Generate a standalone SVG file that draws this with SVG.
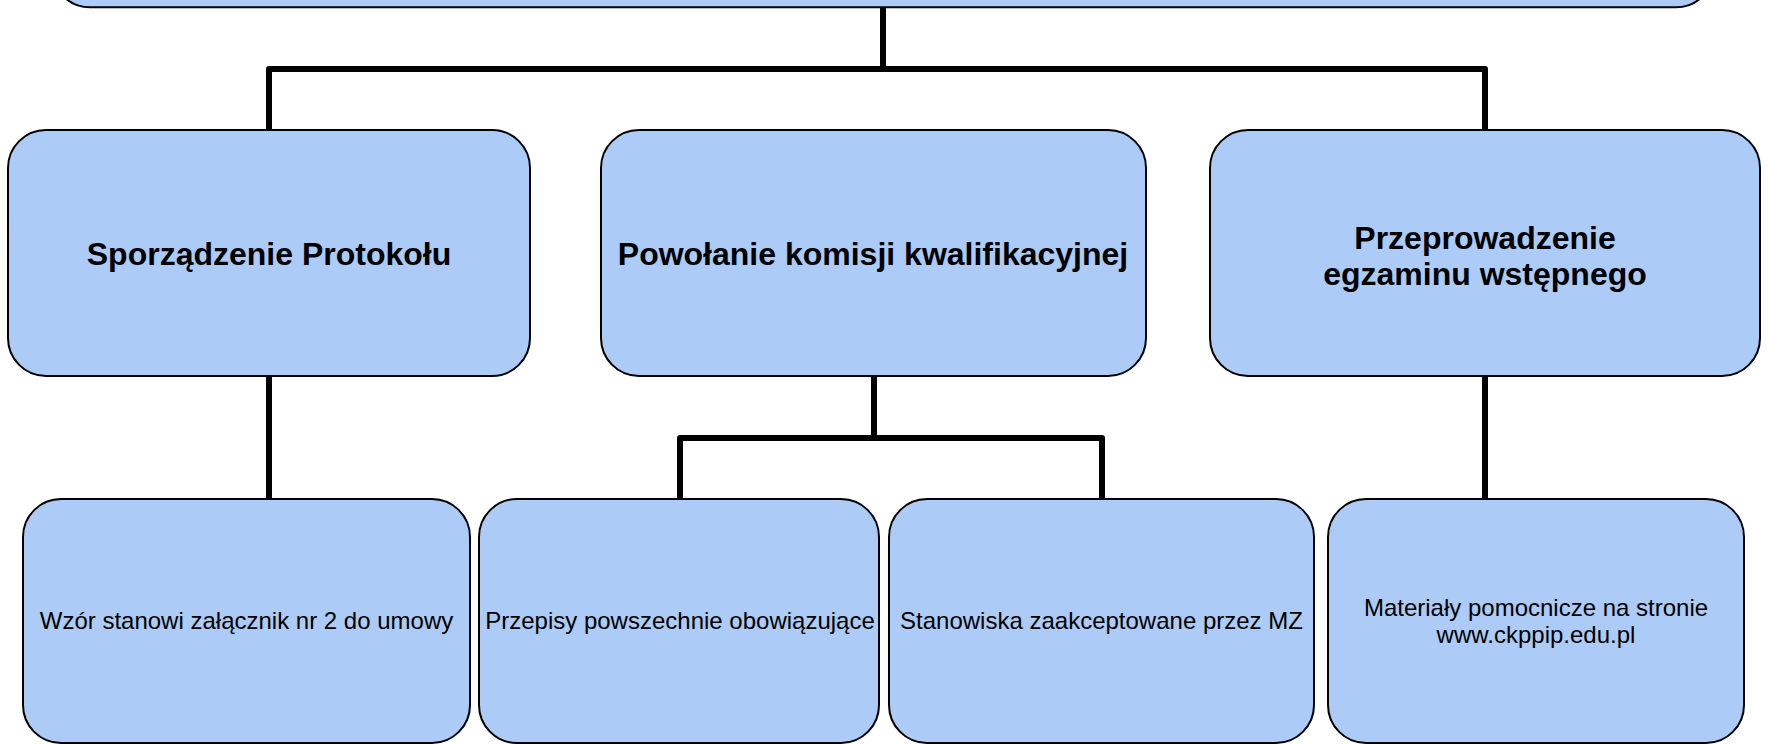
<svg xmlns="http://www.w3.org/2000/svg" width="1767" height="744" viewBox="0 0 1767 744">
  <style>
    .box { fill: #adcbf7; stroke: #000000; stroke-width: 2; }
    .conn { fill: none; stroke: #000000; stroke-width: 6; stroke-linejoin: round; stroke-linecap: butt; }
    .t1 { font-family: "Liberation Sans", Arial, sans-serif; font-weight: bold; font-size: 32px; fill: #000000; text-anchor: middle; }
    .t2 { font-family: "Liberation Sans", Arial, sans-serif; font-size: 24px; fill: #000000; text-anchor: middle; }
  </style>
  <rect width="1767" height="744" fill="#ffffff"/>
  <g id="connectors">
    <path class="conn" d="M883,7 V69"/>
    <path class="conn" d="M269,130 V69 H1485 V130"/>
    <path class="conn" d="M269,376 V499"/>
    <path class="conn" d="M874,376 V438"/>
    <path class="conn" d="M680,499 V438 H1102 V499"/>
    <path class="conn" d="M1485,376 V499"/>
  </g>
  <g id="node-top">
    <rect class="box" x="52" y="-80" width="1662" height="87.3" rx="38" ry="38"/>
  </g>
  <g id="node-protokol">
    <rect class="box" x="8" y="130" width="522" height="246" rx="38" ry="38"/>
    <text class="t1" x="269" y="265">Sporządzenie Protokołu</text>
  </g>
  <g id="node-komisja">
    <rect class="box" x="601" y="130" width="545" height="246" rx="38" ry="38"/>
    <text class="t1" x="873" y="265">Powołanie komisji kwalifikacyjnej</text>
  </g>
  <g id="node-egzamin">
    <rect class="box" x="1210" y="130" width="550" height="246" rx="38" ry="38"/>
    <text class="t1" x="1485" y="249">Przeprowadzenie</text>
    <text class="t1" x="1485" y="285">egzaminu wstępnego</text>
  </g>
  <g id="node-wzor">
    <rect class="box" x="23" y="499" width="447" height="244" rx="38" ry="38"/>
    <text class="t2" x="246.5" y="629">Wzór stanowi załącznik nr 2 do umowy</text>
  </g>
  <g id="node-przepisy">
    <rect class="box" x="479" y="499" width="400" height="244" rx="38" ry="38"/>
    <text class="t2" x="680" y="629">Przepisy powszechnie obowiązujące</text>
  </g>
  <g id="node-stanowiska">
    <rect class="box" x="889" y="499" width="425" height="244" rx="38" ry="38"/>
    <text class="t2" x="1101.5" y="629">Stanowiska zaakceptowane przez MZ</text>
  </g>
  <g id="node-materialy">
    <rect class="box" x="1328" y="499" width="416" height="244" rx="38" ry="38"/>
    <text class="t2" x="1536" y="616">Materiały pomocnicze na stronie</text>
    <text class="t2" x="1536" y="643">www.ckppip.edu.pl</text>
  </g>
</svg>
